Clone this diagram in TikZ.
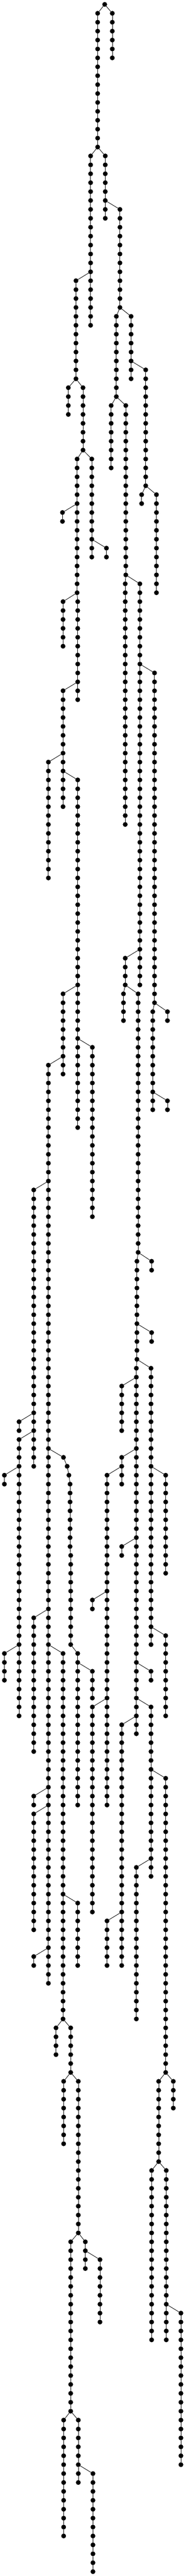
\documentclass[tikz,border=0pt]{standalone}
\usepackage{tikz}
\tikzstyle{vertex}=[circle, draw, fill=black
,minimum size=10.4pt
,inner sep=0pt
]
\tikzstyle{edge} = [draw,line width=1pt,-]
% name/x/first level/last level/parent vertex
\newcommand{\branchlist}{A/222/1/16/root-0, B/255.3/1/6/root-0, C/206/17/36/A-16, D/239.3/17/24/A-16,
  E/272.7/23/34/D-22, F/172.7/31/42/C-30, G/298/35/42/E-34, H/264.5/35/44/E-34,
  I/155.3/43/46/F-42, J/188.7/43/50/F-42, K/252.7/45/52/H-44, L/286/45/64/H-44,
  M/331.3/41/54/G-40, N/322/55/56/M-54, O/355.7/55/66/M-54, P/175.3/51/66/J-50,
  R/208.7/51/62/J-50, Q/142/57/58/P-56, S/242/61/62/R-60, T/143.3/67/72/P-66,
  U/176.7/67/78/P-66, V/143.3/77/90/U-76, W/110/85/98/V-84, X/176.7/87/126/V-86,
  Y/284.7/65/92/L-64, Z/318/65/110/L-64, AA/351.3/75/112/Z-74, AB/284.7/107/110/Z-106,
  AC/280.7/111/114/AB-110, AD/314/111/140/AB-110, AE/347.3/113/124/AA-112, AF/380.7/113/114/AA-112,
  AG/380.7/123/124/AE-122, AH/143.3/111/120/X-110, AI/210/117/136/X-116, AJ/110/119/222/AH-118,
  AK/76.7/133/164/AJ-132, AL/43.3/159/160/AK-158, AM/43.3/161/192/AK-160, AN/10/165/166/AM-164,
  AO/10/185/188/AM-184, AP/144.3/163/163/AJ-162, AQ/152.7/164/164/AP-163, AR/156.7/165/165/AQ-164,
  AS/159.3/166/173/AR-165, AT/160.7/174/184/AS-173, AU/176.7/185/202/AT-184, AV/76.7/181/196/AJ-180,
  AW/143.3/185/226/AJ-184, AX/176.7/213/220/AW-212, AY/210/187/190/AU-186, AZ/243.3/165/202/BA-164,
  BA/276.7/163/166/BD-162, BB/210/179/180/AZ-178, BC/210/191/214/AZ-190, BD/310/153/194/BE-152,
  BE/311.3/141/152/AD-140, BF/344.7/141/142/AD-140, BG/276.7/155/160/BD-154, BH/344.7/149/150/BE-148,
  BI/343.3/153/184/BE-152, BJ/376.7/165/176/BI-164, BK/376.7/183/192/BI-182, BL/276.7/173/174/BD-172,
  BM/343.3/187/188/BD-186, BN/343.3/191/210/BD-190, BO/276.7/193/220/BD-192, BP/376.7/199/232/BN-198,
  BQ/310/209/226/BN-208, BR/243.3/215/220/BO-214, BS/76.7/201/202/AJ-200, BT/76.7/203/216/AJ-202,
  BU/76.7/219/220/AJ-218, BV/127.3/227/230/AW-226, BW/160.7/227/232/AW-226, BX/144.7/233/240/BW-232,
  BY/178/233/250/BW-232, BZ/160.7/251/270/BY-250, CA/194/251/254/BY-250, CB/227.3/253/260/CA-252,
  CC/360.7/233/242/BP-232, CD/394/233/236/BP-232, CE/344.7/243/262/CC-242, CF/378/243/262/CC-242,
  CG/411.3/259/276/CF-258, CH/144.7/271/284/BZ-270, CI/178/271/278/BZ-270, CJ/211.3/277/288/CI-276}

\begin{document}
\begin{tikzpicture}[x=1pt,y=-20.267pt]
    \useasboundingbox (0,-0.4934) rectangle (422,288.4934);
    % The vertices of every branch, with the edges along the branch
    \node[vertex] (root-0) at (238,0) {};
    \foreach \name/\xpos/\first/\last/\parent in \branchlist
        \foreach \lev in {\first,...,\last} {
            \node[vertex] (\name-\lev) at (\xpos,\lev) {};
            \ifnum\lev>\first
                \pgfmathtruncatemacro{\prev}{\lev-1}
                \path[edge] (\name-\prev) -- (\name-\lev);
            \fi
        }

    % Join each branch to the vertex it grows from
    \foreach \name/\xpos/\first/\last/\parent in \branchlist
        \path[edge] (\parent) -- (\name-\first);

\end{tikzpicture}
\end{document}
